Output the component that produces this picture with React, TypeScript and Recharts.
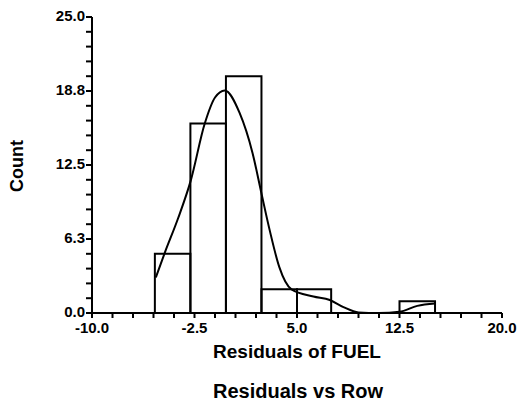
import { ComposedChart, XAxis, YAxis, Line, ReferenceArea } from "recharts";

// histogram bins (residual ranges) and counts
const binLo = [-5.4, -2.8, -0.2, 2.4, 5.0, 12.5];
const binHi = [-2.8, -0.2, 2.4, 5.0, 7.5, 15.1];
const counts = [5, 16, 20, 2, 2, 1];

// smoothed density curve
const curveX = [-5.33, -4.67, -3.7, -2.77, -1.75, -1.0, -0.29, 0.8, 1.75, 2.4, 3.0, 3.7, 4.6, 6.2, 7.4, 8.4, 9.5, 11.0, 12.5, 13.8, 15.1];
const curveY = [3.0, 5.1, 8.0, 11.2, 16.0, 18.2, 18.8, 16.9, 13.5, 10.1, 7.0, 3.9, 2.0, 1.4, 1.1, 0.5, 0.05, 0.0, 0.1, 0.6, 0.8];

const xTicks = [-10, -8.5, -7, -5.5, -4, -2.5, -1, 0.5, 2, 3.5, 5, 6.5, 8, 9.5, 11, 12.5, 14, 15.5, 17, 18.5, 20];
const xLabels = [-10, -2.5, 5, 12.5, 20];
const yTicks = [0, 1.25, 2.5, 3.75, 5, 6.25, 7.5, 8.75, 10, 11.25, 12.5, 13.75, 15, 16.25, 17.5, 18.75, 20, 21.25, 22.5, 23.75, 25];
const yLabels = [0, 6.25, 12.5, 18.75, 25];

const curve = curveX.map((x, i) => ({ x, y: curveY[i] }));

const font = "'Liberation Sans', Arial, sans-serif";
const tickStyle = { fontFamily: font, fontWeight: "bold", fontSize: 15, fill: "#000" };

export default function App() {
  return (
    <div style={{ position: "absolute", left: 0, top: 0, width: 520, height: 404, background: "#fff" }}>
      <ComposedChart width={520} height={404} data={curve} margin={{ top: 17, right: 18, left: 0, bottom: 61 }}>
        <XAxis
          type="number"
          dataKey="x"
          domain={[-10, 20]}
          ticks={xTicks}
          interval={0}
          tickFormatter={(v: number) => (xLabels.includes(v) ? v.toFixed(1) : "")}
          tick={tickStyle}
          tickSize={5}
          tickMargin={4}
          height={30}
          stroke="#000"
          strokeWidth={2}
          tickLine={{ stroke: "#000", strokeWidth: 2 }}
        />
        <YAxis
          type="number"
          domain={[0, 25]}
          ticks={yTicks}
          interval={0}
          tickFormatter={(v: number) => (yLabels.includes(v) ? v.toFixed(1) : "")}
          tick={{ ...tickStyle, dy: -1 }}
          tickSize={6}
          tickMargin={1}
          width={92}
          stroke="#000"
          strokeWidth={2}
          tickLine={{ stroke: "#000", strokeWidth: 2 }}
        />
        {counts.map((c, i) => (
          <ReferenceArea
            key={i}
            x1={binLo[i]}
            x2={binHi[i]}
            y1={0}
            y2={c}
            fill="none"
            fillOpacity={0}
            stroke="#000"
            strokeWidth={2}
            strokeOpacity={1}
          />
        ))}
        <Line
          type="monotone"
          dataKey="y"
          stroke="#000"
          strokeWidth={2}
          dot={false}
          activeDot={false}
          isAnimationActive={false}
        />
        <text x={297} y={358} textAnchor="middle" fontFamily={font} fontWeight="bold" fontSize={19} fill="#000">
          Residuals of FUEL
        </text>
        <text x={298} y={398} textAnchor="middle" fontFamily={font} fontWeight="bold" fontSize={20} fill="#000">
          Residuals vs Row
        </text>
        <text x={23} y={166} transform="rotate(-90, 23, 166)" textAnchor="middle" fontFamily={font} fontWeight="bold" fontSize={18} fill="#000">
          Count
        </text>
      </ComposedChart>
    </div>
  );
}
